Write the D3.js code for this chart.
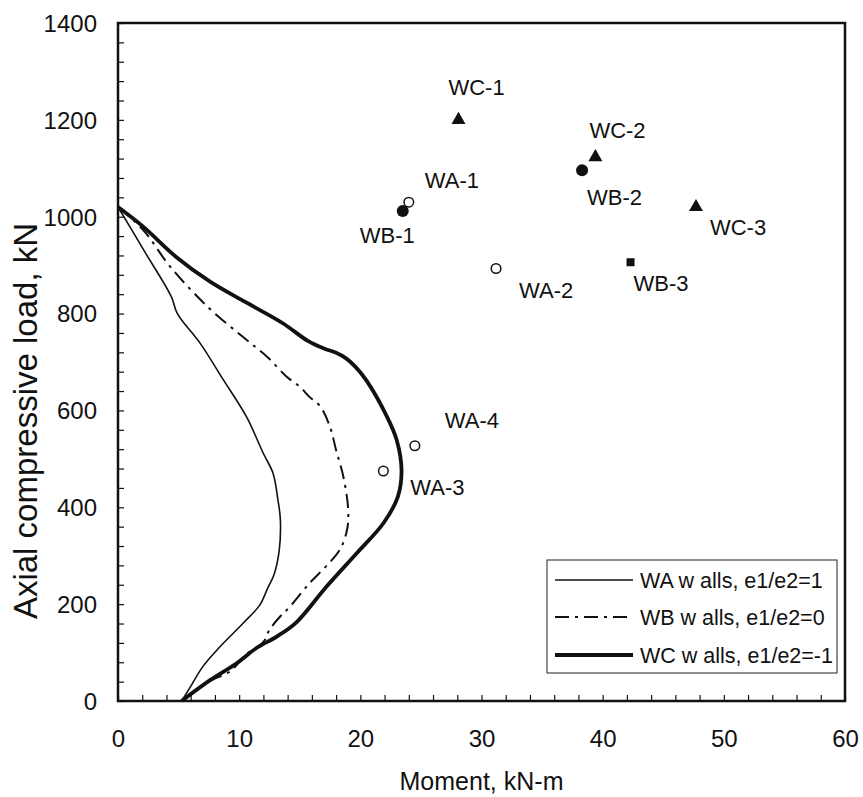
<!DOCTYPE html>
<html>
<head>
<meta charset="utf-8">
<script src="https://cdn.jsdelivr.net/npm/d3@7"></script>
<style>
	body { margin: 0; background: #fff; }
	svg { display: block; font-family: 'Liberation Sans', Arial, sans-serif; }
</style>
</head>
<body>
<svg id="chart"></svg>
<script>
// interaction curves (moment kN-m, axial load kN)
const waMoment = [0, 2.2, 4.4, 4.9, 6.8, 8.7, 10.6, 12.0, 12.8, 13.2, 13.4, 13.3, 12.9, 12.3, 11.7, 10.3, 8.3, 7.0, 5.9, 5.25];
const waLoad = [1020, 928, 835, 800, 738, 663, 587, 511, 470, 415, 375, 310, 263, 230, 198, 160, 109, 71, 26, 0];

const wbMoment = [0, 2.1, 4.3, 7.4, 10.3, 12.3, 13.9, 15.0, 15.8, 16.7, 17.5, 18.0, 18.6, 19.0, 18.9, 18.3, 17.2, 15.8, 14.2, 13.4, 12.5, 12.0, 10.5, 9.3, 7.5, 5.25];
const wbLoad = [1020, 972, 897, 814, 752, 711, 670, 649, 628, 608, 566, 518, 463, 394, 353, 312, 279, 243, 195, 175, 147, 122, 95, 62, 40, 0];

const wcMoment = [0, 2.1, 4.8, 7.6, 10.5, 13.6, 15.7, 17.0, 18.0, 18.8, 19.6, 20.5, 22.2, 23.0, 23.4, 23.1, 21.9, 19.7, 17.2, 14.7, 13.1, 11.4, 9.8, 7.6, 5.25];
const wcLoad = [1020, 979, 917, 866, 824, 780, 743, 728, 719, 708, 690, 662, 587, 539, 477, 422, 367, 305, 236, 162, 133, 109, 78, 43, 0];

const legendLabels = ['WA w alls, e1/e2=1', 'WB w alls, e1/e2=0', 'WC w alls, e1/e2=-1'];

// test results
const specimens = ['WA-1', 'WA-2', 'WA-3', 'WA-4', 'WB-1', 'WB-2', 'WB-3', 'WC-1', 'WC-2', 'WC-3'];
const testMoment = [24.0, 31.2, 21.9, 24.5, 23.5, 38.3, 42.3, 28.1, 39.4, 47.7];
const testLoad = [1030, 893, 475, 527, 1012, 1096, 906, 1200, 1123, 1020];

const xTicks = d3.range(0, 61, 2);
const yTicks = d3.range(0, 1401, 40);

// layout
const width = 863, height = 797;
const marginLeft = 118, plotRight = 845, plotTop = 23, plotBottom = 701;

// label offsets from the marker, px
const labelOffset = {
	'WA-1': [16, -22], 'WA-2': [23, 22], 'WA-3': [27, 16], 'WA-4': [30, -25],
	'WB-1': [-43, 24], 'WB-2': [5, 27], 'WB-3': [3, 21],
	'WC-1': [-10, -33], 'WC-2': [-6, -27], 'WC-3': [14, 20],
};

const svg = d3.select('#chart').attr('width', width).attr('height', height);

const x = d3.scaleLinear().domain([0, 60]).range([marginLeft, plotRight]);
const y = d3.scaleLinear().domain([0, 1400]).range([plotBottom, plotTop]);

// axes with inward ticks
svg.append('g')
	.attr('transform', `translate(0,${plotBottom})`)
	.call(d3.axisBottom(x).tickValues(xTicks).tickSize(-6).tickFormat((d) => (d % 10 === 0 ? d : '')))
	.call((g) => g.select('.domain').remove())
	.call((g) => g.selectAll('.tick line').attr('stroke', '#111').attr('stroke-width', 1.2))
	.call((g) => g.selectAll('.tick text').attr('y', 38).attr('dy', '0.35em')
		.attr('font-size', 24).attr('fill', '#111').attr('font-family', 'Liberation Sans, Arial, sans-serif'));

svg.append('g')
	.attr('transform', `translate(${marginLeft},0)`)
	.call(d3.axisLeft(y).tickValues(yTicks).tickSize(-6).tickFormat((d) => (d % 200 === 0 ? d : '')))
	.call((g) => g.select('.domain').remove())
	.call((g) => g.selectAll('.tick line').attr('stroke', '#111').attr('stroke-width', 1.2))
	.call((g) => g.selectAll('.tick text').attr('x', -21).attr('dy', '0.35em')
		.attr('font-size', 24).attr('fill', '#111').attr('font-family', 'Liberation Sans, Arial, sans-serif'));

// frame
svg.append('rect')
	.attr('x', marginLeft).attr('y', plotTop)
	.attr('width', plotRight - marginLeft).attr('height', plotBottom - plotTop)
	.attr('fill', 'none').attr('stroke', '#111').attr('stroke-width', 2.5);

// curves
const line = d3.line()
	.x((d) => x(d[0]))
	.y((d) => y(d[1]))
	.curve(d3.curveCatmullRom.alpha(0.5));

const curves = [
	{ m: waMoment, p: waLoad, w: 1.6, dash: null },
	{ m: wbMoment, p: wbLoad, w: 2, dash: '14,6,3,6' },
	{ m: wcMoment, p: wcLoad, w: 3.8, dash: null },
];

svg.append('g')
	.selectAll('path')
	.data(curves)
	.join('path')
	.attr('d', (c) => line(c.m.map((v, i) => [v, c.p[i]])))
	.attr('fill', 'none')
	.attr('stroke', '#111')
	.attr('stroke-width', (c) => c.w)
	.attr('stroke-dasharray', (c) => c.dash)
	.attr('stroke-linejoin', 'round');

// markers
const pts = specimens.map((s, i) => ({ name: s, m: testMoment[i], p: testLoad[i] }));
const marks = svg.append('g');
pts.forEach((d) => {
	const cx = x(d.m), cy = y(d.p);
	if (d.name === 'WB-3') {
		marks.append('rect').attr('x', cx - 4).attr('y', cy - 4).attr('width', 8).attr('height', 8).attr('fill', '#111');
	} else if (d.name.startsWith('WA')) {
		marks.append('circle').attr('cx', cx).attr('cy', cy).attr('r', 4.8)
			.attr('fill', '#fff').attr('stroke', '#111').attr('stroke-width', 1.5);
	} else if (d.name.startsWith('WB')) {
		marks.append('circle').attr('cx', cx).attr('cy', cy).attr('r', 6).attr('fill', '#111');
	} else {
		marks.append('path')
			.attr('transform', `translate(${cx},${cy})`)
			.attr('d', d3.symbol(d3.symbolTriangle, 85)())
			.attr('fill', '#111');
	}
});

svg.append('g')
	.selectAll('text')
	.data(pts)
	.join('text')
	.attr('x', (d) => x(d.m) + labelOffset[d.name][0])
	.attr('y', (d) => y(d.p) + labelOffset[d.name][1])
	.attr('dy', '0.35em')
	.attr('font-size', 22)
	.attr('fill', '#111')
	.text((d) => d.name);

// legend
const lg = svg.append('g');
lg.append('rect')
	.attr('x', 547).attr('y', 560).attr('width', 290).attr('height', 113)
	.attr('fill', '#fff').attr('stroke', '#222').attr('stroke-width', 1);
const rowY = [580, 617, 655];
curves.forEach((c, i) => {
	lg.append('line')
		.attr('x1', 555).attr('x2', 633).attr('y1', rowY[i]).attr('y2', rowY[i])
		.attr('stroke', '#111').attr('stroke-width', c.w).attr('stroke-dasharray', c.dash);
	lg.append('text')
		.attr('x', 640).attr('y', rowY[i]).attr('dy', '0.35em')
		.attr('font-size', 21.5).attr('fill', '#111')
		.text(legendLabels[i]);
});

// axis titles
svg.append('text')
	.attr('x', (marginLeft + plotRight) / 2).attr('y', 781).attr('dy', '0.35em')
	.attr('text-anchor', 'middle').attr('font-size', 25).attr('fill', '#111')
	.text('Moment, kN-m');

svg.append('text')
	.attr('transform', 'translate(25,421) rotate(-90)')
	.attr('dy', '0.35em')
	.attr('text-anchor', 'middle').attr('font-size', 33).attr('fill', '#111')
	.text('Axial compressive load, kN');
</script>
</body>
</html>
